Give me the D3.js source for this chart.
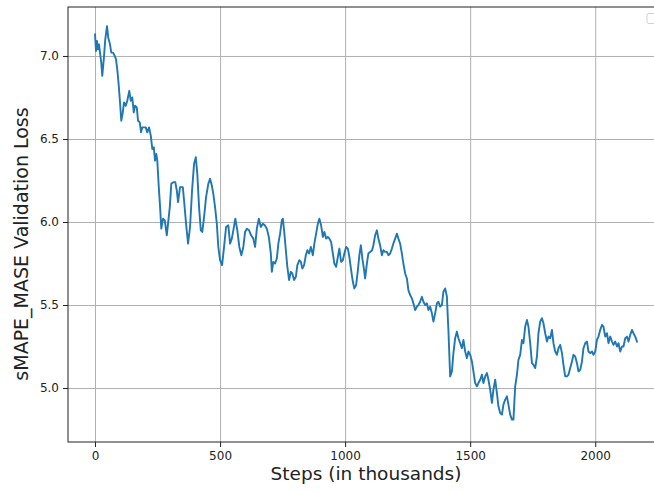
<!DOCTYPE html>
<html>
<head>
<meta charset="utf-8">
<script src="https://cdn.jsdelivr.net/npm/d3@7"></script>
<style>
  body { margin: 0; background: #fff; }
  svg { display: block; }
  text { font-family: "DejaVu Sans", sans-serif; }
</style>
</head>
<body>
<svg id="chart" width="654" height="491"></svg>
<script>
// steps (in thousands)
const steps = [0,4,8,12,16,20,25,29,35,41,48,53,60,65,72,79,84,89,95,100,
  105,111,116,123,129,137,143,149,155,160,167,172,179,184,189,196,203,209,216,223,
  229,235,240,245,249,255,261,265,272,279,287,292,299,305,313,321,327,332,340,351,
  356,364,372,380,388,396,403,409,416,423,429,436,444,453,460,467,473,480,487,493,
  500,508,516,524,533,540,547,553,561,569,577,585,593,600,607,616,624,633,640,647,
  655,663,671,679,687,695,703,707,713,720,727,733,740,747,751,756,763,769,776,783,
  789,796,803,809,817,823,829,836,843,849,856,863,871,877,884,891,897,904,911,917,
  924,931,937,944,951,957,964,971,977,984,991,997,1004,1011,1017,1024,1031,1037,1044,1051,
  1057,1063,1069,1076,1080,1087,1093,1100,1108,1113,1120,1127,1133,1140,1147,1153,1160,1167,1173,1180,
  1187,1193,1200,1207,1213,1220,1227,1233,1240,1247,1253,1260,1267,1273,1280,1287,1293,1300,1307,1313,
  1320,1327,1333,1340,1347,1353,1360,1367,1373,1380,1387,1393,1400,1407,1411,1413,1420,1427,1433,1440,
  1447,1453,1460,1467,1473,1480,1487,1493,1500,1507,1513,1520,1527,1533,1540,1547,1553,1560,1567,1573,
  1580,1587,1593,1600,1607,1613,1620,1627,1633,1640,1647,1653,1660,1667,1673,1680,1687,1693,1700,1707,
  1713,1720,1727,1733,1740,1747,1753,1760,1767,1773,1780,1787,1793,1800,1807,1813,1820,1827,1833,1840,
  1847,1853,1860,1867,1873,1880,1887,1893,1900,1907,1913,1920,1927,1933,1940,1947,1953,1960,1967,1973,
  1980,1987,1993,2000,2007,2013,2020,2027,2033,2040,2047,2053,2060,2067,2073,2080,2087,2093,2100,2107,
  2113,2120,2127,2133,2140,2147,2153,2160,2167];

// validation loss at each step
const loss = [7.13,7.03,7.09,7.04,7.07,7.02,6.96,6.88,6.98,7.10,7.18,7.11,7.07,7.02,7.02,7.00,6.98,6.92,6.82,6.72,
  6.61,6.66,6.72,6.70,6.73,6.79,6.73,6.75,6.66,6.70,6.69,6.61,6.60,6.54,6.57,6.57,6.57,6.54,6.57,6.52,
  6.44,6.45,6.37,6.41,6.37,6.21,6.07,5.96,6.02,6.01,5.92,5.99,6.09,6.23,6.24,6.24,6.19,6.12,6.21,6.21,
  6.13,5.99,5.87,5.97,6.19,6.35,6.39,6.29,6.09,5.95,5.94,6.03,6.15,6.23,6.26,6.22,6.17,6.09,5.99,5.85,
  5.77,5.74,5.85,5.97,5.98,5.87,5.90,5.95,6.02,5.95,5.85,5.80,5.85,5.94,5.96,5.95,5.92,5.90,5.85,5.96,
  6.02,5.97,5.99,5.98,5.96,5.91,5.81,5.70,5.76,5.75,5.78,5.87,5.93,6.01,6.02,5.95,5.83,5.73,5.65,5.70,
  5.69,5.65,5.67,5.74,5.77,5.76,5.72,5.74,5.80,5.83,5.81,5.85,5.80,5.87,5.93,5.99,6.02,5.98,5.91,5.94,
  5.90,5.91,5.90,5.88,5.81,5.75,5.73,5.79,5.84,5.76,5.77,5.81,5.85,5.84,5.79,5.71,5.64,5.60,5.62,5.71,
  5.80,5.86,5.78,5.71,5.66,5.75,5.81,5.82,5.83,5.86,5.92,5.95,5.90,5.86,5.80,5.83,5.82,5.82,5.80,5.81,
  5.84,5.87,5.90,5.93,5.90,5.87,5.81,5.75,5.69,5.66,5.59,5.56,5.54,5.51,5.47,5.49,5.50,5.52,5.55,5.52,
  5.50,5.51,5.47,5.49,5.45,5.40,5.45,5.51,5.52,5.49,5.50,5.58,5.60,5.55,5.41,5.35,5.07,5.10,5.21,5.30,
  5.34,5.30,5.27,5.24,5.29,5.22,5.18,5.22,5.20,5.16,5.10,5.03,5.01,5.03,5.05,5.08,5.03,5.07,5.09,5.05,
  4.99,4.91,4.99,5.05,4.97,4.89,4.85,4.84,4.90,4.93,4.95,4.90,4.84,4.81,4.81,5.01,5.08,5.17,5.20,5.29,
  5.27,5.37,5.41,5.37,5.27,5.15,5.14,5.12,5.19,5.33,5.40,5.42,5.39,5.33,5.28,5.31,5.30,5.35,5.27,5.22,
  5.20,5.24,5.26,5.21,5.14,5.07,5.07,5.08,5.12,5.16,5.20,5.19,5.15,5.10,5.11,5.16,5.24,5.27,5.28,5.22,
  5.21,5.22,5.20,5.22,5.29,5.31,5.35,5.38,5.37,5.31,5.33,5.27,5.31,5.28,5.26,5.28,5.25,5.27,5.22,5.25,
  5.25,5.30,5.31,5.28,5.32,5.35,5.33,5.31,5.28];

const xTicks = [0, 500, 1000, 1500, 2000];
const yTicks = [5.0, 5.5, 6.0, 6.5, 7.0];

const xLabel = "Steps (in thousands)";
const yLabel = "sMAPE_MASE Validation Loss";

// plot area (the right edge runs past the picture, as in the original crop)
let plotLeft = 68, plotRight = 664, plotTop = 7, plotBottom = 442;

let svg = d3.select("#chart");

let xScale = d3.scaleLinear()
               .domain([-108, 2275])
               .range([plotLeft, plotRight]);

let yScale = d3.scaleLinear()
               .domain([4.675, 7.295])
               .range([plotBottom, plotTop]);

// grid lines
svg.append("g")
   .attr("transform", "translate(0," + plotBottom + ")")
   .call(d3.axisBottom(xScale).tickValues(xTicks).tickSize(-(plotBottom - plotTop)).tickFormat(""))
   .call(g => g.select(".domain").remove())
   .selectAll("line")
   .attr("stroke", "#b0b0b0")
   .attr("stroke-width", 1);

svg.append("g")
   .attr("transform", "translate(" + plotLeft + ",0)")
   .call(d3.axisLeft(yScale).tickValues(yTicks).tickSize(-(plotRight - plotLeft)).tickFormat(""))
   .call(g => g.select(".domain").remove())
   .selectAll("line")
   .attr("stroke", "#b0b0b0")
   .attr("stroke-width", 1);

// the loss curve
let points = d3.zip(steps, loss);
let line = d3.line()
             .x(d => xScale(d[0]))
             .y(d => yScale(d[1]));

svg.append("path")
   .datum(points)
   .attr("d", line)
   .attr("fill", "none")
   .attr("stroke", "#1f77b4")
   .attr("stroke-width", 1.9)
   .attr("stroke-linejoin", "round")
   .attr("stroke-linecap", "square");

// frame
svg.append("rect")
   .attr("x", plotLeft)
   .attr("y", plotTop)
   .attr("width", plotRight - plotLeft)
   .attr("height", plotBottom - plotTop)
   .attr("fill", "none")
   .attr("stroke", "#222")
   .attr("stroke-width", 1);

// axes
let xAxis = svg.append("g")
   .attr("transform", "translate(0," + plotBottom + ")")
   .call(d3.axisBottom(xScale).tickValues(xTicks).tickSize(5).tickPadding(4).tickFormat(d3.format("d")));
xAxis.select(".domain").remove();
xAxis.selectAll("text").attr("font-size", "12px").attr("fill", "#222").style("font-family", "DejaVu Sans");
xAxis.selectAll("line").attr("stroke", "#222");

let yAxis = svg.append("g")
   .attr("transform", "translate(" + plotLeft + ",0)")
   .call(d3.axisLeft(yScale).tickValues(yTicks).tickSize(5).tickPadding(4).tickFormat(d3.format(".1f")));
yAxis.select(".domain").remove();
yAxis.selectAll("text").attr("font-size", "12px").attr("fill", "#222").style("font-family", "DejaVu Sans");
yAxis.selectAll("line").attr("stroke", "#222");

// axis labels
svg.append("text")
   .attr("x", (plotLeft + plotRight) / 2)
   .attr("y", 480)
   .attr("text-anchor", "middle")
   .attr("font-size", "18.5px")
   .attr("fill", "#222")
   .text(xLabel);

svg.append("text")
   .attr("transform", "translate(28,244) rotate(-90)")
   .attr("text-anchor", "middle")
   .attr("font-size", "19px")
   .attr("fill", "#222")
   .text(yLabel);

// empty legend box in the top right corner
svg.append("rect")
   .attr("x", 647)
   .attr("y", 13.5)
   .attr("width", 14)
   .attr("height", 10)
   .attr("rx", 2)
   .attr("fill", "#fff")
   .attr("stroke", "#d0d0d0")
   .attr("stroke-width", 1);
</script>
</body>
</html>
